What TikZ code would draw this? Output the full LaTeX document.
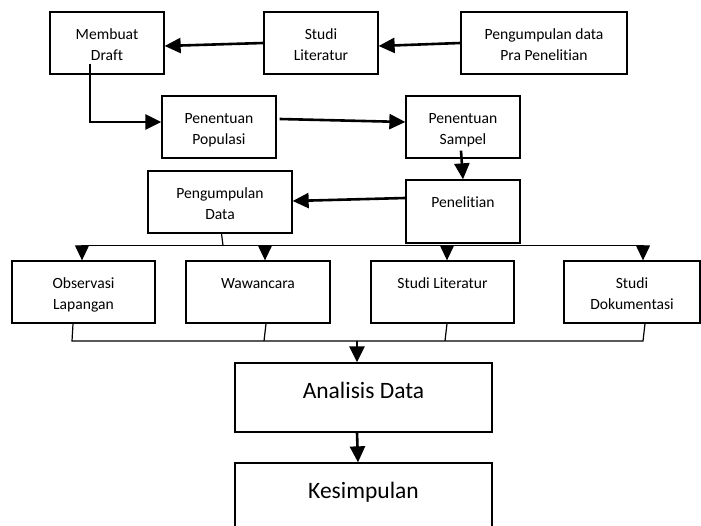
\documentclass[tikz,border=0pt]{standalone}
\usepackage{fontspec}
\setmainfont{Carlito}[Ligatures=NoCommon]
\usetikzlibrary{arrows.meta}
\newcommand\mystrut{\rule{0pt}{15pt}}
\newcommand\bigstrut{\rule{0pt}{22pt}}
\tikzset{
  box/.style={draw=black, line width=1.3pt, rectangle, inner sep=0pt, minimum height=62pt},
  lbl/.style={anchor=north, inner sep=0pt, align=center, font=\fontsize{15.6}{21}\selectfont},
  biglbl/.style={anchor=north, inner sep=0pt, align=center, font=\fontsize{23.5}{28}\selectfont},
  thickarrow/.style={line width=2.6pt, -{Triangle[length=16pt,width=15pt]}},
  thinarrow/.style={line width=1.2pt, -{Triangle[length=15pt,width=14pt]}},
  thinline/.style={line width=1.2pt},
}
\begin{document}
\begin{tikzpicture}[x=1pt,y=-1pt]
\useasboundingbox (0,0) rectangle (701,526);
\clip (0,0) rectangle (701,526);

% boxes
\node[box, minimum width=114pt] (draft) at (107,43) {};
\node[box, minimum width=114pt] (studi) at (321,43) {};
\node[box, minimum width=166pt] (pra) at (544,43) {};
\node[box, minimum width=114pt] (pop) at (219,127) {};
\node[box, minimum width=114pt] (sampel) at (463,127) {};
\node[box, minimum width=144pt] (pdata) at (220,202) {};
\node[box, minimum width=114pt, minimum height=63pt] (penel) at (463,211.5) {};
\node[box, minimum width=143pt] (obs) at (83.5,292) {};
\node[box, minimum width=144pt] (waw) at (258,292) {};
\node[box, minimum width=143pt] (slit) at (442.5,292) {};
\node[box, minimum width=136pt] (sdok) at (632,292) {};
\node[box, minimum width=257pt, minimum height=69pt] (anal) at (363.5,397.5) {};
\node[box, minimum width=257pt, minimum height=69pt] (kes) at (363.5,497.5) {};

% labels
\node[lbl] (draftl) at ([yshift=-13pt]draft.north) {\mystrut Membuat\\Draft};
\node[lbl] (studil) at ([yshift=-13pt]studi.north) {\mystrut Studi\\Literatur};
\node[lbl] (pral) at ([yshift=-13pt]pra.north) {\mystrut Pengumpulan data\\Pra Penelitian};
\node[lbl] (popl) at ([yshift=-13pt]pop.north) {\mystrut Penentuan\\Populasi};
\node[lbl] (sampell) at ([yshift=-13pt]sampel.north) {\mystrut Penentuan\\Sampel};
\node[lbl] (pdatal) at ([yshift=-13pt]pdata.north) {\mystrut Pengumpulan\\Data};
\node[lbl] (penell) at ([yshift=-13pt]penel.north) {\mystrut Penelitian};
\node[lbl] (obsl) at ([yshift=-13pt]obs.north) {\mystrut Observasi\\Lapangan};
\node[lbl] (wawl) at ([yshift=-13pt]waw.north) {\mystrut Wawancara};
\node[lbl] (slitl) at ([yshift=-13pt]slit.north) {\mystrut Studi Literatur};
\node[lbl] (sdokl) at ([yshift=-13pt]sdok.north) {\mystrut Studi\\Dokumentasi};
\node[biglbl] (anall) at ([yshift=-14pt]anal.north) {\bigstrut Analisis Data};
\node[biglbl] (kesl) at ([yshift=-14pt]kes.north) {\bigstrut Kesimpulan};

% top connectors
\draw[thickarrow] (studi.west) -- ([yshift=-3pt]draft.east);
\draw[thickarrow] (pra.west) -- ([yshift=-3pt]studi.east);
\draw[thickarrow] ([xshift=-17pt,yshift=11pt]draft.south) |- ([yshift=5pt]pop.west);
\draw[thickarrow] ([xshift=3pt,yshift=8pt]pop.east) -- ([yshift=5pt]sampel.west);
\draw[thickarrow] ([xshift=-2pt,yshift=8pt]sampel.south) -- (penel.north);
\draw[thickarrow] ([yshift=13.5pt]penel.west) -- ([yshift=1pt]pdata.east);

% distribution
\coordinate (j1) at (223,245.5);
\draw[thinline] ([xshift=1.5pt]pdata.south) -- (j1);
\draw[thinarrow] (j1) -| ([xshift=-1.5pt]obs.north);
\draw[thinarrow] (j1) -| ([xshift=7pt]waw.north);
\draw[thinarrow] (j1) -| ([xshift=4.5pt]slit.north);
\draw[thinarrow] (j1) -| ([xshift=11pt]sdok.north);

% collection
\coordinate (b1) at (72,341);
\coordinate (b2) at (264,341);
\coordinate (b3) at (445,341);
\coordinate (b4) at (643,341);
\coordinate (j2) at (357,341);
\draw[thinline] ([xshift=-10.5pt]obs.south) -- (b1) -- (b4) -- ([xshift=13pt]sdok.south);
\draw[thinline] ([xshift=8pt]waw.south) -- (b2);
\draw[thinline] ([xshift=4.5pt]slit.south) -- (b3);
\draw[thickarrow] (j2) -- ([xshift=-6.5pt]anal.north);
\draw[thickarrow] ([xshift=-6.5pt]anal.south) -- ([xshift=-5.5pt]kes.north);
\end{tikzpicture}
\end{document}
